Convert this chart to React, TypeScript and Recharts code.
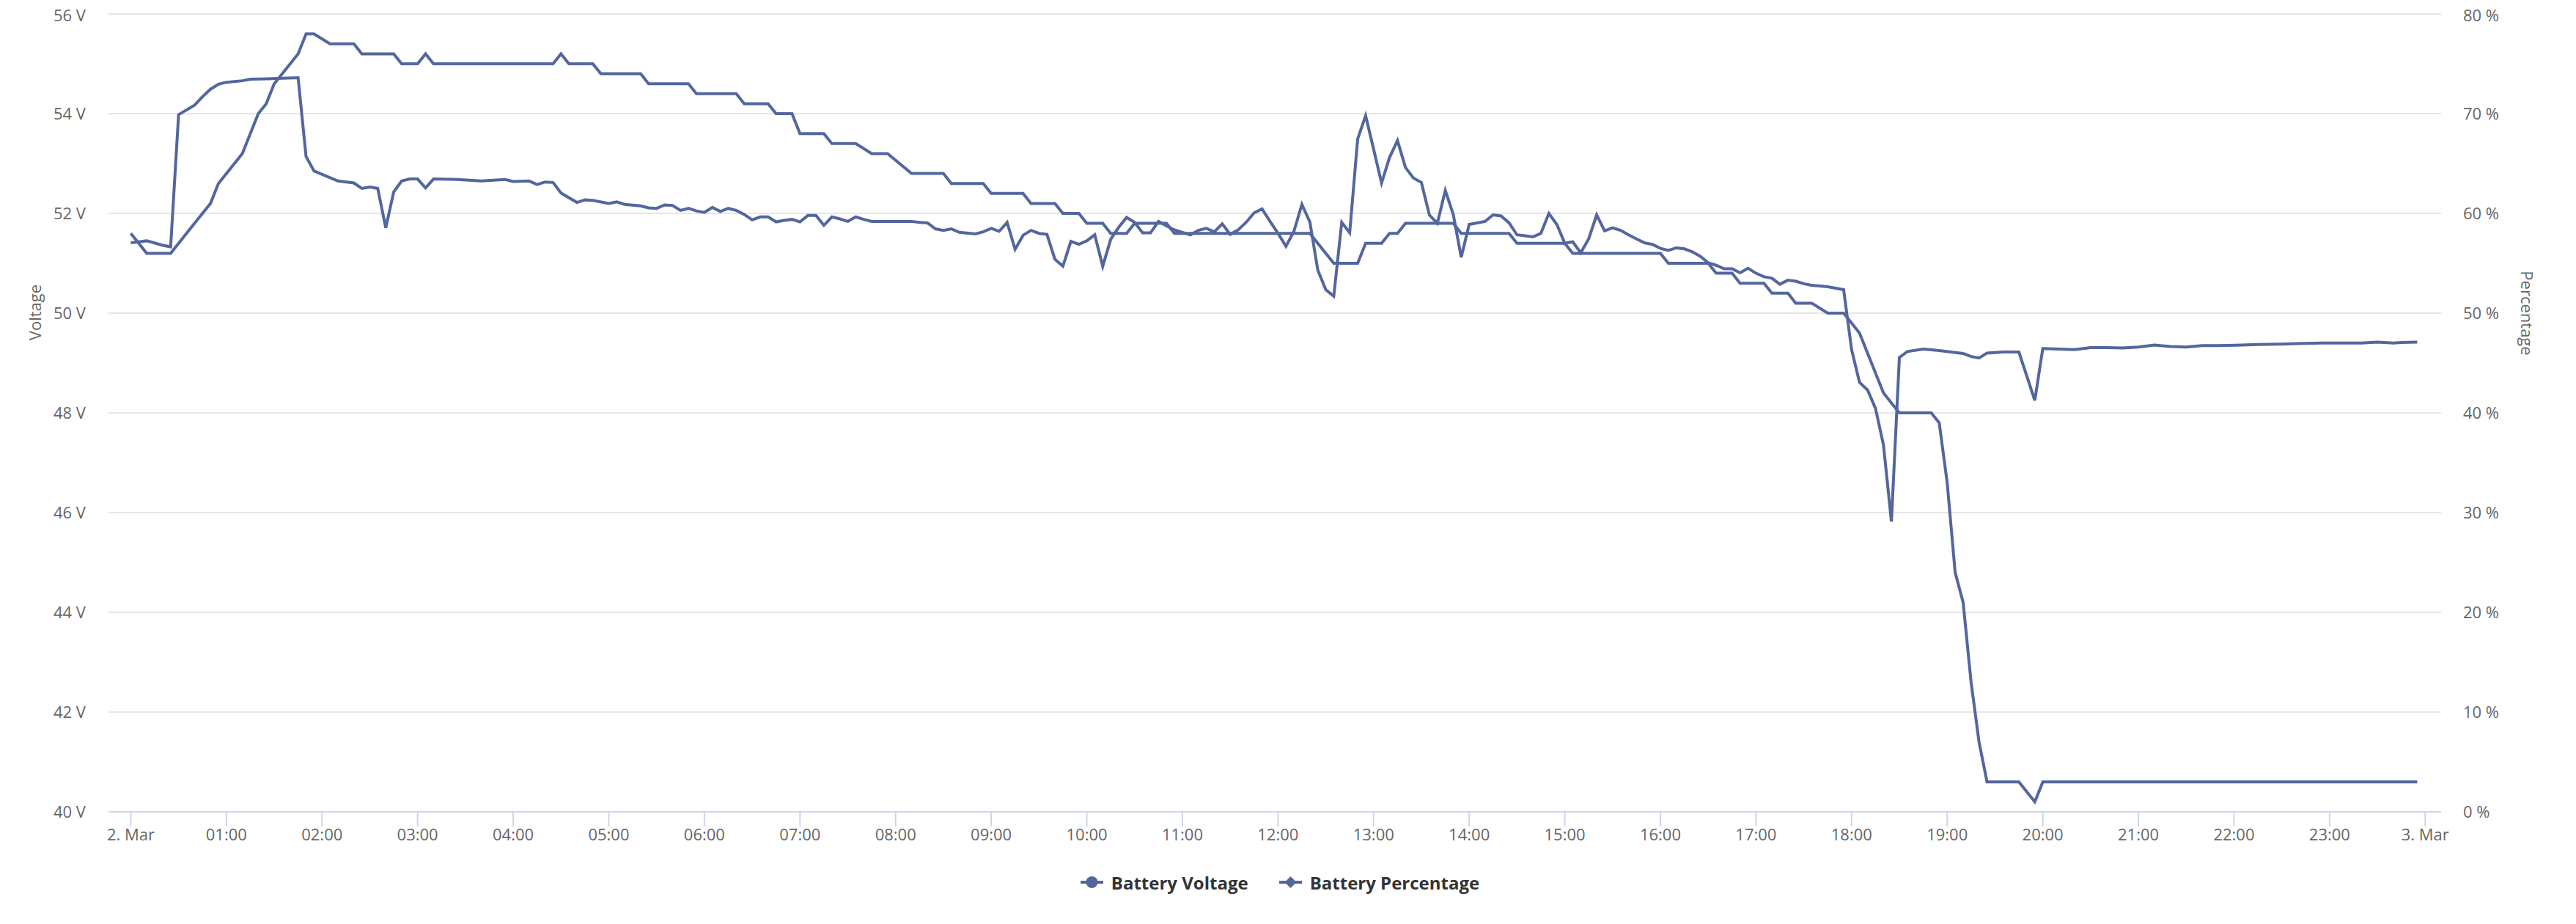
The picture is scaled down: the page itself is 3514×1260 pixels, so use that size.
import { LineChart, Line, XAxis, YAxis, CartesianGrid, Legend, Label } from 'recharts';

// time of day in minutes since 2. Mar 00:00
const voltTimes = [
  0, 10, 20, 25, 30, 40, 45, 50, 55, 60, 70, 75, 85, 95, 105, 110, 115, 130, 140, 145,
  150, 155, 160, 165, 170, 175, 180, 185, 190, 205, 220, 235, 240, 250, 255, 260, 265, 270, 280, 285,
  290, 300, 305, 310, 320, 325, 330, 335, 340, 345, 350, 355, 360, 365, 370, 375, 380, 385, 390, 395,
  400, 405, 410, 415, 420, 425, 430, 435, 440, 445, 450, 455, 460, 465, 475, 490, 495, 500, 505, 510,
  515, 520, 530, 535, 540, 545, 550, 555, 560, 565, 570, 575, 580, 585, 590, 595, 600, 605, 610, 615,
  620, 625, 630, 635, 640, 645, 650, 655, 660, 665, 670, 675, 680, 685, 690, 695, 700, 705, 710, 715,
  720, 725, 730, 735, 740, 745, 750, 755, 760, 765, 770, 775, 780, 785, 790, 795, 800, 805, 810, 815,
  820, 825, 830, 835, 840, 845, 850, 855, 860, 865, 870, 875, 880, 885, 890, 895, 900, 905, 910, 915,
  920, 925, 930, 935, 940, 945, 950, 955, 960, 965, 970, 975, 980, 985, 990, 995, 1000, 1005, 1010, 1015,
  1020, 1025, 1030, 1035, 1040, 1045, 1050, 1055, 1065, 1070, 1075, 1080, 1085, 1090, 1095, 1100, 1105, 1110, 1115, 1125,
  1135, 1145, 1150, 1155, 1160, 1165, 1175, 1185, 1195, 1200, 1210, 1220, 1230, 1240, 1250, 1260, 1270, 1280, 1290, 1300,
  1310, 1325, 1335, 1350, 1360, 1375, 1390, 1400, 1410, 1420, 1425, 1435,
];

const voltValues = [
  51.41, 51.45, 51.36, 51.33, 53.98, 54.17, 54.34, 54.49, 54.59, 54.63, 54.66, 54.69, 54.7, 54.71, 54.72, 53.14, 52.85, 52.65, 52.61, 52.5,
  52.53, 52.5, 51.71, 52.43, 52.65, 52.69, 52.69, 52.51, 52.69, 52.68, 52.65, 52.68, 52.64, 52.65, 52.58, 52.63, 52.62, 52.41, 52.22, 52.27,
  52.26, 52.2, 52.23, 52.18, 52.15, 52.11, 52.1, 52.17, 52.16, 52.06, 52.1, 52.05, 52.02, 52.12, 52.04, 52.1, 52.06, 51.98, 51.87, 51.93,
  51.93, 51.83, 51.86, 51.88, 51.83, 51.96, 51.96, 51.76, 51.93, 51.89, 51.84, 51.93, 51.88, 51.84, 51.84, 51.84, 51.82, 51.81, 51.69, 51.66,
  51.69, 51.62, 51.59, 51.63, 51.7, 51.64, 51.82, 51.28, 51.56, 51.66, 51.6, 51.58, 51.08, 50.94, 51.44, 51.38, 51.45, 51.57, 50.94, 51.48,
  51.72, 51.92, 51.82, 51.61, 51.61, 51.84, 51.75, 51.67, 51.62, 51.57, 51.66, 51.7, 51.63, 51.79, 51.58, 51.67, 51.82, 52.01, 52.09, 51.84,
  51.6, 51.34, 51.64, 52.18, 51.83, 50.86, 50.47, 50.34, 51.82, 51.61, 53.49, 53.96, 53.29, 52.61, 53.12, 53.46, 52.92, 52.71, 52.62, 51.97,
  51.8, 52.46, 51.98, 51.12, 51.78, 51.81, 51.84, 51.97, 51.95, 51.81, 51.57, 51.55, 51.53, 51.6, 52.0, 51.78, 51.4, 51.43, 51.21, 51.49,
  51.97, 51.65, 51.71, 51.66, 51.57, 51.49, 51.41, 51.38, 51.3, 51.26, 51.31, 51.29, 51.23, 51.14, 51.01, 50.96, 50.89, 50.89, 50.81, 50.9,
  50.8, 50.73, 50.7, 50.58, 50.66, 50.64, 50.59, 50.56, 50.53, 50.5, 50.47, 49.27, 48.61, 48.46, 48.09, 47.36, 45.82, 49.11, 49.23, 49.28,
  49.25, 49.21, 49.19, 49.13, 49.1, 49.2, 49.22, 49.22, 48.25, 49.29, 49.28, 49.27, 49.31, 49.31, 49.3, 49.32, 49.36, 49.33, 49.32, 49.35,
  49.35, 49.36, 49.37, 49.38, 49.39, 49.4, 49.4, 49.4, 49.42, 49.4, 49.41, 49.42,
];

const pctTimes = [
  0, 10, 25, 40, 50, 55, 70, 80, 85, 90, 105, 110, 115, 125, 140, 145, 165, 170, 180, 185,
  190, 265, 270, 275, 290, 295, 320, 325, 350, 355, 380, 385, 400, 405, 415, 420, 435, 440, 455, 465,
  475, 490, 510, 515, 535, 540, 560, 565, 580, 585, 595, 600, 610, 615, 625, 630, 640, 645, 650, 655,
  660, 740, 755, 770, 775, 785, 790, 795, 800, 830, 835, 865, 870, 900, 905, 960, 965, 990, 995, 1005,
  1010, 1025, 1030, 1040, 1045, 1055, 1065, 1075, 1080, 1085, 1090, 1095, 1100, 1105, 1110, 1130, 1135, 1140, 1145, 1150,
  1155, 1160, 1165, 1185, 1195, 1200, 1435,
];

const pctValues = [
  58, 56, 56, 59, 61, 63, 66, 70, 71, 73, 76, 78, 78, 77, 77, 76, 76, 75, 75, 76,
  75, 75, 76, 75, 75, 74, 74, 73, 73, 72, 72, 71, 71, 70, 70, 68, 68, 67, 67, 66,
  66, 64, 64, 63, 63, 62, 62, 61, 61, 60, 60, 59, 59, 58, 58, 59, 59, 59, 59, 58,
  58, 58, 55, 55, 57, 57, 58, 58, 59, 59, 58, 58, 57, 57, 56, 56, 55, 55, 54, 54,
  53, 53, 52, 52, 51, 51, 50, 50, 49, 48, 46, 44, 42, 41, 40, 40, 39, 33, 24, 21,
  13, 7, 3, 3, 1, 3, 3,
];

const hourTicks = [
  0, 60, 120, 180, 240, 300, 360, 420, 480, 540, 600, 660, 720, 780, 840, 900, 960, 1020, 1080, 1140,
  1200, 1260, 1320, 1380, 1440,
];
const voltTicks = [40, 42, 44, 46, 48, 50, 52, 54, 56];
const pctTicks = [0, 10, 20, 30, 40, 50, 60, 70, 80];

const voltData = voltTimes.map((t, i) => ({ t, v: voltValues[i] }));
const pctData = pctTimes.map((t, i) => ({ t, p: pctValues[i] }));

const color = '#53669e';
const font = '"Open Sans", sans-serif';

const formatHour = (m: number) => {
  if (m === 0) return '2. Mar';
  if (m === 1440) return '3. Mar';
  return String(m / 60).padStart(2, '0') + ':00';
};

const VoltTitle = () => (
  <text x={39} y={418} transform="rotate(-90 39 418)" textAnchor="middle" dominantBaseline="central"
    fill="#666" fontSize={22} fontFamily={font}>Voltage</text>
);

const PctTitle = () => (
  <text x={3440} y={419} transform="rotate(90 3440 419)" textAnchor="middle" dominantBaseline="central"
    fill="#666" fontSize={22} fontFamily={font}>Percentage</text>
);

const LegendContent = () => (
  <div style={{
    display: 'flex', justifyContent: 'center', alignItems: 'center', height: 40, gap: 42,
    fontFamily: font, fontWeight: 700, fontSize: 24, color: '#333', paddingRight: 22,
  }}>
    <span style={{ display: 'flex', alignItems: 'center' }}>
      <svg width={31} height={16}>
        <line x1={0} y1={8} x2={31} y2={8} stroke={color} strokeWidth={4} />
        <circle cx={15.5} cy={8} r={8} fill={color} />
      </svg>
      <span style={{ marginLeft: 11 }}>Battery Voltage</span>
    </span>
    <span style={{ display: 'flex', alignItems: 'center' }}>
      <svg width={31} height={16}>
        <line x1={0} y1={8} x2={31} y2={8} stroke={color} strokeWidth={4} />
        <path d="M15.5 0 L23.5 8 L15.5 16 L7.5 8 Z" fill={color} />
      </svg>
      <span style={{ marginLeft: 11 }}>Battery Percentage</span>
    </span>
  </div>
);

const App = () => {
  const tick = { fill: '#666', fontSize: 22, fontFamily: font };
  return (
    <div style={{ fontFamily: font }}>
      <LineChart width={3498} height={1244} margin={{ top: 11, right: 0, left: 0, bottom: 29 }}>
        <CartesianGrid yAxisId="left" vertical={false} stroke="#e6e6e6" strokeWidth={2} />
        <XAxis
          dataKey="t"
          type="number"
          domain={[-14, 1450]}
          ticks={hourTicks}
          tickFormatter={formatHour}
          height={76}
          tickSize={20}
          tickMargin={3}
          tick={tick}
          axisLine={{ stroke: '#ccd6eb', strokeWidth: 2 }}
          tickLine={{ stroke: '#ccd6eb', strokeWidth: 2 }}
          allowDataOverflow
        />
        <YAxis
          yAxisId="left"
          domain={[40, 56]}
          ticks={voltTicks}
          tickFormatter={(v: number) => `${v} V`}
          width={140}
          axisLine={false}
          tickLine={false}
          tickSize={0}
          tickMargin={31}
          tick={tick}
        >
          <Label content={VoltTitle} />
        </YAxis>
        <YAxis
          yAxisId="right"
          orientation="right"
          domain={[0, 80]}
          ticks={pctTicks}
          tickFormatter={(v: number) => `${v} %`}
          width={176}
          axisLine={false}
          tickLine={false}
          tickSize={0}
          tickMargin={30}
          tick={tick}
        >
          <Label content={PctTitle} />
        </YAxis>
        <Legend verticalAlign="bottom" height={40} content={LegendContent} />
        <Line
          yAxisId="left"
          data={voltData}
          dataKey="v"
          name="Battery Voltage"
          stroke={color}
          strokeWidth={4}
          dot={false}
          activeDot={false}
          isAnimationActive={false}
        />
        <Line
          yAxisId="right"
          data={pctData}
          dataKey="p"
          name="Battery Percentage"
          stroke={color}
          strokeWidth={4}
          dot={false}
          activeDot={false}
          isAnimationActive={false}
        />
      </LineChart>
    </div>
  );
};

export default App;
